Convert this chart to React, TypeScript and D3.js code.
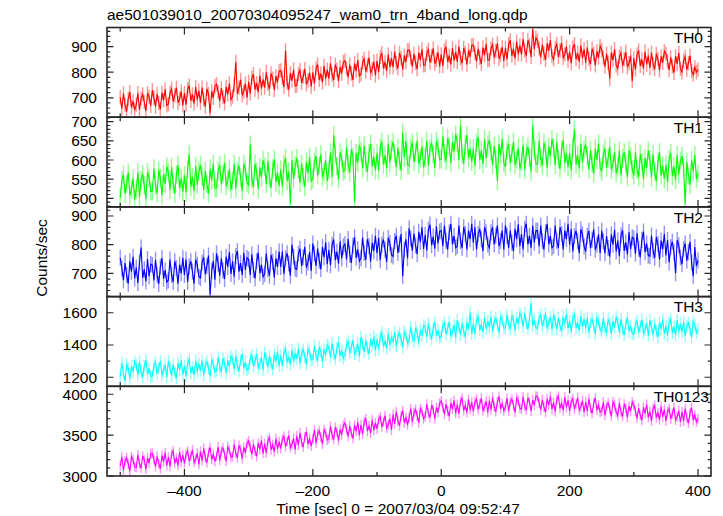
import React from "react";
import * as d3 from "d3";

// ---- data (2.5-s samples from -500 s to +400 s) ----
const TIME_START = -500;
const TIME_STEP = 2.5;

const TH0 = [
  702, 657, 717, 672, 647, 697, 722, 662, 687, 652,
  673, 718, 653, 698, 713, 683, 648, 718, 703, 668,
  730, 700, 665, 715, 680, 655, 720, 690, 733, 670,
  675, 720, 735, 685, 710, 740, 680, 695, 725, 670,
  718, 673, 733, 748, 688, 713, 678, 743, 693, 728,
  680, 740, 695, 665, 735, 715, 640, 725, 700, 745,
  753, 723, 688, 738, 703, 678, 743, 713, 756, 693,
  705, 750, 840, 715, 740, 770, 710, 725, 755, 700,
  762, 717, 777, 792, 732, 757, 722, 787, 737, 772,
  740, 800, 755, 735, 795, 775, 730, 785, 760, 805,
  807, 777, 742, 885, 757, 732, 797, 767, 810, 747,
  748, 793, 808, 758, 783, 813, 753, 768, 798, 743,
  800, 755, 815, 830, 770, 795, 760, 825, 775, 810,
  775, 835, 790, 770, 830, 810, 765, 820, 795, 840,
  845, 815, 780, 830, 795, 770, 835, 805, 848, 785,
  792, 837, 852, 802, 827, 857, 797, 812, 842, 787,
  845, 800, 860, 875, 815, 840, 805, 870, 820, 855,
  820, 880, 835, 815, 875, 855, 810, 865, 840, 885,
  887, 857, 822, 872, 837, 812, 877, 847, 890, 827,
  828, 873, 888, 838, 863, 893, 833, 848, 878, 823,
  870, 825, 885, 900, 840, 865, 830, 895, 845, 880,
  840, 900, 855, 835, 895, 875, 830, 885, 860, 905,
  907, 877, 842, 892, 857, 832, 897, 867, 910, 847,
  848, 893, 908, 858, 883, 913, 853, 868, 898, 843,
  895, 850, 910, 925, 865, 890, 855, 920, 870, 905,
  870, 930, 885, 865, 925, 905, 860, 970, 890, 935,
  923, 893, 858, 908, 873, 848, 913, 883, 926, 863,
  850, 895, 910, 860, 885, 915, 855, 870, 900, 845,
  880, 835, 895, 910, 850, 875, 840, 905, 855, 890,
  837, 897, 852, 832, 892, 872, 827, 882, 857, 902,
  887, 857, 822, 872, 837, 775, 877, 847, 890, 827,
  815, 860, 875, 825, 850, 880, 820, 835, 865, 765,
  855, 810, 870, 885, 825, 850, 815, 880, 830, 865,
  817, 877, 832, 812, 872, 852, 807, 862, 837, 882,
  873, 843, 808, 858, 823, 798, 863, 833, 876, 813,
  800, 845, 860, 810, 835, 865, 805, 790, 820, 800,
  810,
];

const TH1 = [
  502, 547, 562, 512, 537, 567, 507, 522, 552, 497,
  523, 568, 503, 548, 563, 533, 498, 568, 553, 518,
  518, 578, 533, 513, 573, 553, 508, 563, 538, 583,
  567, 522, 582, 537, 512, 562, 587, 527, 552, 517,
  560, 515, 575, 615, 530, 555, 520, 585, 535, 570,
  587, 557, 522, 572, 537, 512, 577, 547, 590, 527,
  527, 572, 587, 537, 562, 592, 532, 547, 577, 522,
  545, 590, 525, 570, 585, 555, 520, 590, 575, 540,
  535, 640, 550, 530, 590, 570, 525, 580, 555, 600,
  582, 537, 597, 552, 527, 577, 602, 542, 567, 532,
  575, 530, 590, 605, 545, 570, 485, 600, 550, 585,
  605, 575, 540, 590, 555, 530, 595, 565, 608, 545,
  550, 595, 610, 560, 585, 615, 555, 570, 600, 545,
  575, 620, 555, 665, 615, 585, 550, 620, 605, 570,
  573, 633, 588, 568, 628, 608, 490, 618, 593, 638,
  623, 578, 638, 593, 568, 618, 643, 583, 608, 573,
  618, 573, 633, 648, 588, 613, 578, 643, 593, 628,
  647, 617, 582, 632, 597, 572, 672, 607, 650, 587,
  585, 630, 645, 595, 620, 650, 590, 605, 635, 580,
  605, 650, 585, 630, 645, 615, 580, 650, 635, 600,
  602, 662, 617, 597, 657, 637, 592, 647, 622, 667,
  645, 600, 690, 615, 590, 640, 665, 605, 630, 595,
  630, 585, 645, 660, 600, 625, 590, 655, 605, 640,
  652, 622, 587, 637, 602, 545, 642, 612, 655, 592,
  582, 627, 642, 592, 617, 647, 587, 602, 632, 577,
  595, 640, 575, 620, 635, 605, 570, 690, 625, 590,
  590, 650, 605, 585, 645, 625, 580, 635, 610, 655,
  632, 587, 647, 602, 577, 627, 652, 592, 617, 582,
  618, 573, 633, 680, 588, 613, 578, 643, 593, 628,
  640, 610, 575, 625, 590, 565, 630, 600, 643, 580,
  570, 615, 630, 580, 605, 635, 575, 590, 620, 565,
  580, 625, 560, 605, 620, 590, 555, 625, 610, 575,
  560, 620, 575, 555, 615, 595, 550, 605, 580, 625,
  600, 555, 615, 570, 545, 595, 620, 560, 585, 550,
  588, 543, 603, 618, 558, 583, 548, 613, 563, 598,
  610, 580, 485, 595, 560, 535, 600, 570, 613, 550,
  565,
];

const TH2 = [
  754, 718, 676, 736, 694, 664, 742, 706, 758, 682,
  720, 666, 738, 790, 684, 714, 672, 750, 690, 732,
  729, 675, 747, 693, 663, 723, 753, 681, 711, 669,
  676, 748, 694, 670, 742, 718, 664, 730, 700, 754,
  694, 748, 670, 724, 742, 706, 664, 748, 730, 688,
  684, 738, 756, 696, 726, 762, 625, 708, 744, 678,
  770, 734, 692, 752, 710, 680, 758, 722, 774, 698,
  742, 688, 760, 778, 706, 736, 694, 772, 712, 754,
  748, 694, 766, 712, 682, 742, 772, 700, 730, 688,
  698, 770, 716, 692, 764, 740, 686, 752, 722, 776,
  722, 776, 698, 752, 770, 734, 692, 800, 758, 716,
  714, 768, 786, 726, 756, 792, 720, 738, 774, 708,
  804, 768, 726, 786, 744, 714, 792, 756, 808, 732,
  782, 728, 800, 818, 746, 776, 734, 812, 752, 794,
  802, 748, 820, 766, 736, 796, 826, 754, 784, 742,
  753, 825, 771, 747, 819, 795, 741, 807, 777, 831,
  770, 824, 746, 800, 818, 782, 740, 824, 806, 764,
  759, 813, 831, 771, 801, 837, 690, 783, 819, 753,
  857, 821, 779, 839, 797, 767, 845, 809, 861, 785,
  834, 780, 852, 870, 798, 828, 786, 864, 804, 846,
  849, 795, 867, 813, 783, 843, 873, 801, 831, 789,
  795, 867, 813, 789, 861, 837, 783, 849, 819, 873,
  807, 861, 783, 837, 855, 819, 777, 861, 843, 801,
  789, 843, 861, 801, 831, 867, 795, 813, 849, 783,
  867, 831, 789, 849, 807, 777, 855, 819, 871, 795,
  837, 783, 855, 873, 801, 831, 789, 867, 807, 849,
  849, 795, 867, 813, 783, 843, 873, 801, 831, 789,
  795, 867, 813, 789, 861, 837, 783, 849, 819, 873,
  800, 854, 776, 830, 848, 812, 770, 854, 836, 794,
  776, 830, 848, 788, 818, 854, 782, 800, 836, 770,
  848, 812, 770, 830, 788, 758, 836, 800, 852, 776,
  814, 760, 832, 850, 778, 808, 766, 844, 784, 826,
  822, 768, 840, 786, 756, 816, 846, 774, 804, 762,
  760, 832, 778, 754, 826, 802, 748, 814, 784, 838,
  762, 816, 738, 792, 810, 774, 700, 816, 798, 756,
  732, 786, 804, 744, 774, 810, 738, 690, 792, 726,
  745,
];

const TH3 = [
  1205, 1289, 1226, 1175, 1282, 1254, 1191, 1268, 1233, 1296,
  1276, 1213, 1297, 1234, 1199, 1269, 1304, 1220, 1255, 1206,
  1208, 1271, 1292, 1222, 1257, 1299, 1215, 1236, 1278, 1201,
  1301, 1259, 1210, 1280, 1231, 1196, 1287, 1245, 1305, 1217,
  1269, 1206, 1290, 1311, 1227, 1262, 1213, 1304, 1234, 1283,
  1241, 1304, 1213, 1276, 1297, 1255, 1206, 1304, 1283, 1234,
  1240, 1324, 1261, 1233, 1317, 1289, 1226, 1303, 1268, 1331,
  1313, 1250, 1334, 1271, 1236, 1306, 1341, 1257, 1292, 1243,
  1253, 1316, 1337, 1267, 1302, 1344, 1260, 1281, 1323, 1246,
  1354, 1312, 1263, 1333, 1284, 1249, 1340, 1298, 1358, 1270,
  1334, 1271, 1355, 1376, 1292, 1327, 1278, 1369, 1299, 1348,
  1314, 1377, 1286, 1349, 1370, 1328, 1279, 1377, 1356, 1307,
  1310, 1394, 1331, 1303, 1387, 1359, 1296, 1373, 1338, 1401,
  1388, 1325, 1409, 1346, 1311, 1381, 1416, 1332, 1367, 1318,
  1338, 1401, 1422, 1352, 1387, 1429, 1345, 1366, 1408, 1331,
  1449, 1407, 1358, 1428, 1379, 1344, 1435, 1393, 1453, 1365,
  1434, 1371, 1455, 1476, 1392, 1427, 1378, 1469, 1399, 1448,
  1419, 1482, 1391, 1454, 1475, 1433, 1384, 1482, 1461, 1412,
  1430, 1514, 1451, 1423, 1507, 1479, 1416, 1493, 1458, 1521,
  1513, 1450, 1534, 1471, 1436, 1506, 1541, 1457, 1492, 1443,
  1453, 1516, 1537, 1467, 1502, 1544, 1460, 1481, 1523, 1446,
  1554, 1512, 1463, 1533, 1484, 1449, 1540, 1498, 1600, 1470,
  1534, 1471, 1555, 1576, 1492, 1527, 1478, 1569, 1499, 1548,
  1511, 1574, 1483, 1546, 1567, 1525, 1476, 1574, 1553, 1504,
  1505, 1589, 1526, 1498, 1582, 1554, 1491, 1568, 1533, 1596,
  1576, 1513, 1597, 1534, 1499, 1569, 1660, 1520, 1555, 1506,
  1503, 1566, 1587, 1517, 1552, 1594, 1510, 1531, 1573, 1496,
  1589, 1547, 1498, 1568, 1519, 1484, 1575, 1533, 1593, 1505,
  1546, 1483, 1567, 1588, 1504, 1539, 1490, 1581, 1511, 1560,
  1504, 1567, 1476, 1539, 1560, 1518, 1469, 1567, 1546, 1497,
  1483, 1567, 1504, 1476, 1560, 1532, 1469, 1546, 1511, 1574,
  1540, 1477, 1561, 1498, 1463, 1533, 1568, 1484, 1519, 1470,
  1466, 1529, 1550, 1480, 1515, 1557, 1473, 1494, 1536, 1459,
  1554, 1512, 1463, 1533, 1484, 1449, 1540, 1498, 1558, 1470,
  1519, 1456, 1540, 1561, 1477, 1512, 1463, 1554, 1484, 1533,
  1482, 1545, 1454, 1517, 1538, 1496, 1447, 1545, 1524, 1475,
  1500,
];

const TH0123 = [
  3122, 3235, 3072, 3185, 3223, 3147, 3060, 3235, 3198, 3110,
  3107, 3258, 3145, 3095, 3245, 3195, 3082, 3220, 3157, 3270,
  3278, 3203, 3115, 3240, 3152, 3090, 3253, 3177, 3285, 3127,
  3230, 3117, 3268, 3305, 3155, 3218, 3130, 3293, 3167, 3255,
  3155, 3268, 3305, 3180, 3243, 3318, 3167, 3205, 3280, 3142,
  3300, 3187, 3338, 3225, 3162, 3288, 3350, 3200, 3263, 3175,
  3242, 3355, 3192, 3305, 3343, 3267, 3180, 3355, 3318, 3230,
  3237, 3388, 3275, 3225, 3375, 3325, 3212, 3350, 3287, 3400,
  3428, 3353, 3265, 3390, 3302, 3240, 3403, 3327, 3435, 3277,
  3395, 3282, 3433, 3470, 3320, 3383, 3295, 3458, 3332, 3420,
  3335, 3448, 3485, 3360, 3423, 3498, 3347, 3385, 3460, 3322,
  3490, 3377, 3528, 3415, 3352, 3478, 3540, 3390, 3453, 3365,
  3452, 3565, 3402, 3515, 3553, 3477, 3390, 3565, 3528, 3440,
  3457, 3608, 3495, 3445, 3595, 3545, 3432, 3570, 3507, 3620,
  3648, 3573, 3485, 3610, 3522, 3460, 3623, 3547, 3655, 3497,
  3625, 3512, 3663, 3700, 3550, 3613, 3525, 3688, 3562, 3650,
  3575, 3688, 3725, 3600, 3663, 3738, 3587, 3625, 3700, 3562,
  3750, 3637, 3788, 3675, 3612, 3738, 3800, 3650, 3713, 3625,
  3712, 3825, 3662, 3775, 3813, 3737, 3650, 3825, 3788, 3700,
  3727, 3878, 3765, 3715, 3865, 3815, 3702, 3840, 3777, 3890,
  3918, 3843, 3755, 3880, 3792, 3730, 3893, 3817, 3925, 3767,
  3875, 3762, 3913, 3950, 3800, 3863, 3775, 3938, 3812, 3900,
  3790, 3903, 3940, 3815, 3878, 3953, 3802, 3840, 3915, 3777,
  3922, 3809, 3960, 3847, 3784, 3910, 3972, 3822, 3885, 3797,
  3840, 3953, 3790, 3903, 3941, 3865, 3778, 3953, 3916, 3828,
  3817, 3968, 3855, 3805, 3955, 3905, 3792, 3930, 3867, 3980,
  3968, 3893, 3805, 3930, 3842, 3780, 3943, 3867, 3975, 3817,
  3901, 3788, 3939, 3976, 3826, 3889, 3801, 3964, 3838, 3926,
  3795, 3908, 3945, 3820, 3883, 3958, 3807, 3845, 3920, 3782,
  3905, 3792, 3943, 3830, 3767, 3893, 3955, 3805, 3868, 3780,
  3792, 3905, 3742, 3855, 3893, 3817, 3730, 3905, 3868, 3780,
  3742, 3893, 3780, 3730, 3880, 3830, 3717, 3855, 3792, 3905,
  3868, 3793, 3705, 3830, 3742, 3680, 3843, 3767, 3875, 3717,
  3787, 3674, 3825, 3862, 3712, 3775, 3687, 3850, 3724, 3812,
  3673, 3786, 3823, 3698, 3761, 3836, 3685, 3723, 3798, 3660,
  3785, 3672, 3823, 3710, 3647, 3773, 3835, 3685, 3748, 3660,
  3700,
];

const SERIES = [TH0, TH1, TH2, TH3, TH0123];
const BAND_NAMES = ["TH0", "TH1", "TH2", "TH3", "TH0123"];
const ERRORS = [28, 24, 28, 38, 60];
const COLORS = ["#ff0000", "#00ff00", "#0000ff", "#00ffff", "#ff00ff"];

const X_DOMAIN = [-520.6, 420.2];
const X_MAJOR = [-400, -200, 0, 200, 400];
const X_MINOR = [-500, -300, -100, 100, 300];
const Y_DOMAINS = [
  [624, 975],
  [477.6, 711.7],
  [618.8, 931.7],
  [1144, 1700],
  [3000, 4097],
];
const Y_MAJOR = [
  [700, 800, 900],
  [500, 550, 600, 650, 700],
  [700, 800, 900],
  [1200, 1400, 1600],
  [3000, 3500, 4000],
];
const Y_MINOR_STEP = [20, 10, 20, 100, 100];

const TITLE = "ae501039010_20070304095247_wam0_trn_4band_long.qdp";
const X_LABEL = "Time [sec] 0 = 2007/03/04 09:52:47";
const Y_LABEL = "Counts/sec";

// ---- layout ----
const W = 723;
const H = 516;
const LEFT = 107;
const RIGHT = 711;
const TOP = 27.5;
const PANEL_H = 89.7;
const FONT = "'Liberation Sans', Arial, Helvetica, sans-serif";
const FS = 15.5;
const AXIS = "#262626";

function Panel({ idx, x }: { idx: number; x: d3.ScaleLinear<number, number> }) {
  const top = TOP + idx * PANEL_H;
  const bottom = top + PANEL_H;
  const y = d3.scaleLinear().domain(Y_DOMAINS[idx]).range([bottom, top]);
  const vals = SERIES[idx];
  const pts = vals.map((v, i) => [TIME_START + i * TIME_STEP, v] as [number, number]);
  const line = d3
    .line<[number, number]>()
    .x((d) => x(d[0]))
    .y((d) => y(d[1]))(pts) as string;
  const err = ERRORS[idx];
  const errPath = pts
    .map((d) => `M${x(d[0]).toFixed(2)},${y(d[1] - err).toFixed(2)}V${y(d[1] + err).toFixed(2)}`)
    .join("");
  const [d0, d1] = Y_DOMAINS[idx];
  const step = Y_MINOR_STEP[idx];
  const minors = d3
    .range(Math.ceil(d0 / step) * step, d1, step)
    .filter((v) => !Y_MAJOR[idx].some((m) => Math.abs(m - v) < 1e-6));
  const clipId = `clip${idx}`;
  const color = COLORS[idx];
  const tickPath: string[] = [];
  Y_MAJOR[idx].forEach((v) => {
    const yy = y(v);
    tickPath.push(`M${LEFT},${yy}h6.5M${RIGHT},${yy}h-6.5`);
  });
  minors.forEach((v) => {
    const yy = y(v);
    tickPath.push(`M${LEFT},${yy}h3.3M${RIGHT},${yy}h-3.3`);
  });
  X_MAJOR.forEach((t) => {
    const xx = x(t);
    tickPath.push(`M${xx},${bottom}v-7M${xx},${top}v7`);
  });
  X_MINOR.forEach((t) => {
    const xx = x(t);
    tickPath.push(`M${xx},${bottom}v-4M${xx},${top}v4`);
  });
  return (
    <g>
      <defs>
        <clipPath id={clipId}>
          <rect x={LEFT} y={top} width={RIGHT - LEFT} height={PANEL_H} />
        </clipPath>
      </defs>
      <g clipPath={`url(#${clipId})`}>
        <path d={errPath} stroke={color} strokeOpacity={0.42} strokeWidth={1.4} fill="none" />
        <path d={line} stroke={color} strokeWidth={1.1} fill="none" />
      </g>
      <path d={tickPath.join("")} stroke={AXIS} strokeWidth={1.2} fill="none" />
      <rect x={LEFT} y={top} width={RIGHT - LEFT} height={PANEL_H} fill="none" stroke={AXIS} strokeWidth={1.6} />
      {Y_MAJOR[idx].map((v) => (
        <text
          key={v}
          x={97}
          y={y(v)}
          textAnchor="end"
          dominantBaseline="central"
          fontSize={FS}
          fontFamily={FONT}
          fill="#000"
        >
          {v}
        </text>
      ))}
      <text
        x={idx === 4 ? 709 : 703}
        y={top + 15.6}
        textAnchor="end"
        fontSize={FS}
        fontFamily={FONT}
        fill="#000"
      >
        {BAND_NAMES[idx]}
      </text>
    </g>
  );
}

export default function App() {
  const x = d3.scaleLinear().domain(X_DOMAIN).range([LEFT, RIGHT]);
  return (
    <svg
      width={W}
      height={H}
      style={{ position: "absolute", left: 0, top: 0, background: "#fff" }}
    >
      <rect width={W} height={H} fill="#fff" />
      <text x={LEFT} y={19.7} fontSize={FS} fontFamily={FONT} fill="#000">
        {TITLE}
      </text>
      {SERIES.map((_, i) => (
        <Panel key={i} idx={i} x={x} />
      ))}
      {X_MAJOR.map((t) => (
        <text
          key={t}
          x={x(t)}
          y={495.5}
          textAnchor="middle"
          fontSize={FS}
          fontFamily={FONT}
          fill="#000"
        >
          {t < 0 ? `\u2013${Math.abs(t)}` : `${t}`}
        </text>
      ))}
      <text x={398} y={514} textAnchor="middle" fontSize={FS} fontFamily={FONT} fill="#000">
        {X_LABEL}
      </text>
      <text
        transform={`translate(46.5,258) rotate(-90)`}
        textAnchor="middle"
        fontSize={FS}
        fontFamily={FONT}
        fill="#000"
      >
        {Y_LABEL}
      </text>
    </svg>
  );
}
